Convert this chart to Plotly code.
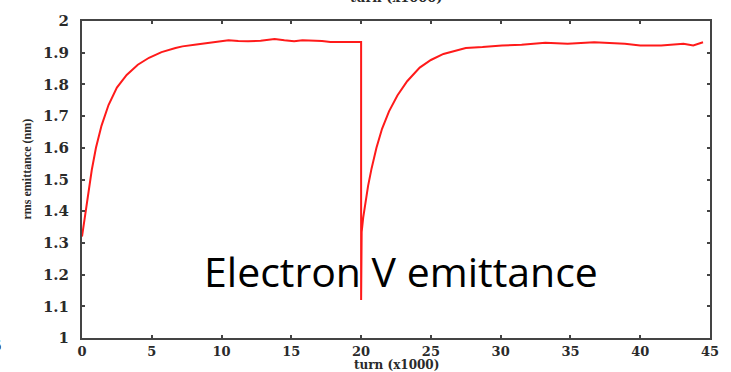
import plotly.graph_objects as go

# turn (x1000) and rms emittance (nm)
turn_k = [0.0, 0.1, 0.25, 0.45, 0.7, 1.0, 1.4, 1.9, 2.5, 3.2, 4.0, 4.8, 5.7, 6.7, 7.2, 8.2, 9.1, 9.6,
          10.5, 11.2, 11.9, 12.8, 13.8, 14.5, 15.2, 15.8, 16.6, 17.2, 17.8, 18.9, 19.95, 20.0,
          20.0, 20.04, 20.15, 20.3, 20.5, 20.75, 21.1, 21.5, 22.0, 22.6, 23.3, 24.2, 25.0, 25.9, 26.8,
          27.5, 28.7, 30.1, 31.5, 33.2, 34.8, 36.7, 38.9, 40.0, 41.5, 43.1, 43.8, 44.5]
emittance = [1.32, 1.35, 1.40, 1.46, 1.53, 1.60, 1.67, 1.735, 1.79, 1.83, 1.862, 1.884, 1.902, 1.915, 1.92,
             1.926, 1.931, 1.934, 1.939, 1.937, 1.936, 1.938, 1.943, 1.939, 1.936, 1.939, 1.939, 1.937,
             1.934, 1.935, 1.934, 1.934,
             1.12, 1.335, 1.38, 1.43, 1.48, 1.535, 1.60, 1.66, 1.715, 1.765, 1.81, 1.853, 1.877, 1.896,
             1.908, 1.915, 1.918, 1.923, 1.925, 1.931, 1.928, 1.933, 1.928, 1.923, 1.923, 1.928, 1.923, 1.933]

x_ticks = [0, 5, 10, 15, 20, 25, 30, 35, 40, 45]
y_ticks = [1, 1.1, 1.2, 1.3, 1.4, 1.5, 1.6, 1.7, 1.8, 1.9, 2]
y_tick_text = ["1", "1.1", "1.2", "1.3", "1.4", "1.5", "1.6", "1.7", "1.8", "1.9", "2"]

ink = "#2a2a2a"

fig = go.Figure()
fig.add_trace(go.Scatter(x=turn_k, y=emittance, mode="lines",
                         line=dict(color="#ff1a1a", width=2),
                         hoverinfo="skip"))

axis_common = dict(showline=True, linecolor="#444444", linewidth=2, mirror="allticks",
                   ticks="inside", ticklen=3, tickwidth=2, tickcolor="#444444",
                   showgrid=False, zeroline=False)

fig.update_xaxes(range=[0, 45], tickvals=x_ticks, ticklabelstandoff=0,
                 tickfont=dict(family="DejaVu Serif", size=13, color=ink, weight="bold"), **axis_common)
fig.update_yaxes(range=[1, 2], tickvals=y_ticks, ticktext=y_tick_text, ticklabelstandoff=8,
                 tickfont=dict(family="DejaVu Serif", size=15, color=ink, weight="bold"), **axis_common)

fig.update_layout(
    width=731, height=372,
    margin=dict(l=82, r=14, t=16, b=34),
    plot_bgcolor="white", paper_bgcolor="white",
    showlegend=False,
    annotations=[
        dict(text="turn (x1000)", xref="paper", yref="paper", x=0.5, y=0, yshift=-18,
             xanchor="center", yanchor="top", showarrow=False,
             font=dict(family="DejaVu Serif", size=12, color=ink, weight="bold")),
        dict(text="turn (x1000)", xref="paper", yref="paper", x=0.5, y=1, yshift=14,
             xanchor="center", yanchor="bottom", showarrow=False,
             font=dict(family="DejaVu Serif", size=13, color=ink, weight="bold")),
        dict(text="rms emittance (nm)", xref="paper", yref="paper", x=0, xshift=-56, y=0.5, yshift=10,
             xanchor="center", yanchor="middle", showarrow=False, textangle=-90,
             font=dict(family="Liberation Serif", size=12, color=ink, weight="bold")),
        dict(text="Electron V emittance", xref="paper", yref="paper", x=0.508, y=0.212,
             xanchor="center", yanchor="middle", showarrow=False,
             font=dict(family="Open Sans", size=41, color="black")),
        dict(text="5", xref="paper", yref="paper", x=0, xshift=-85, y=0, yshift=-8,
             xanchor="center", yanchor="middle", showarrow=False,
             font=dict(family="DejaVu Serif", size=14, color=ink, weight="bold")),
    ],
)

fig.write_html("out.html")
